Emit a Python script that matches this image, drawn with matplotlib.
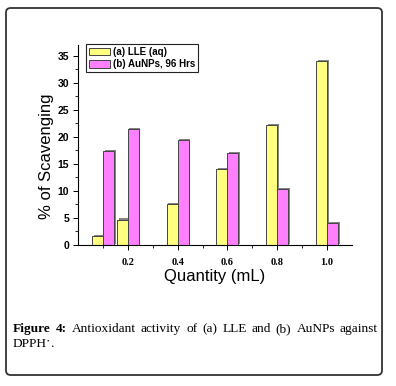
import matplotlib
matplotlib.use("Agg")
import matplotlib.pyplot as plt
import matplotlib.patheffects as pe
from matplotlib.patches import FancyBboxPatch
import numpy as np

# data
quantity = [0.1, 0.2, 0.4, 0.6, 0.8, 1.0]
lle_aq = [1.7, 4.7, 7.6, 14.0, 22.2, 34.1]
aunps_96h = [17.3, 21.5, 19.4, 17.0, 10.4, 4.0]
series_labels = ["(a) LLE (aq)", "(b) AuNPs, 96 Hrs"]
xtick_vals = [0.2, 0.4, 0.6, 0.8, 1.0]
xtick_labels = ["0.2", "0.4", "0.6", "0.8", "1.0"]
ytick_vals = [0, 5, 10, 15, 20, 25, 30, 35]

W, H = 396, 386
fig = plt.figure(figsize=(W / 100, H / 100), dpi=100)

# rounded frame around figure + caption
frame = FancyBboxPatch((6 / W, 1 - 375 / H), 376 / W, 367 / H,
                       boxstyle="round,pad=0,rounding_size=0.012",
                       transform=fig.transFigure, fill=False,
                       edgecolor="#333333", linewidth=1.3)
fig.patches.append(frame)

ax = fig.add_axes([78 / W, 1 - 245 / H, 274 / W, 200 / H])
x = np.array(quantity)
bw = 0.044
shadow = [pe.SimplePatchShadow(offset=(1.2, 0.8), shadow_rgbFace="#777777", alpha=0.9), pe.Normal()]
b1 = ax.bar(x - bw / 2, lle_aq, bw, color="#FFFF80", edgecolor="#444444",
            linewidth=0.7, label=series_labels[0])
b2 = ax.bar(x + bw / 2, aunps_96h, bw, color="#FF80FF", edgecolor="#444444",
            linewidth=0.7, label=series_labels[1])
for b in list(b1) + list(b2):
    b.set_path_effects(shadow)

ax.set_xlim(0, 1.1)
ax.set_ylim(0, 37)
ax.spines["top"].set_visible(False)
ax.spines["right"].set_visible(False)
for s in ("left", "bottom"):
    ax.spines[s].set_linewidth(0.8)

ax.set_xticks(xtick_vals)
ax.set_xticklabels(xtick_labels, fontfamily="Liberation Serif",
                   fontweight="bold", fontsize=7.5)
ax.set_xticks([0.1, 0.3, 0.5, 0.7, 0.9], minor=True)
ax.set_yticks(ytick_vals)
ax.set_yticklabels([str(v) for v in ytick_vals], fontfamily="Liberation Sans",
                   fontweight="bold", fontsize=7.5)
ax.set_yticks(np.arange(2.5, 37, 5), minor=True)
ax.tick_params(which="major", length=3.5, width=0.7, pad=3)
ax.tick_params(which="minor", length=2.5, width=0.6)
ax.tick_params(axis="x", which="major", pad=6)

fig.text(47 / W, 1 - 156 / H, "% of Scavenging", rotation=90,
         ha="center", va="center", fontfamily="Liberation Sans", fontsize=12)
fig.text(215 / W, 1 - 277 / H, "Quantity (mL)", ha="center", va="center",
         fontfamily="Liberation Sans", fontsize=12)

leg = ax.legend(loc="upper left", bbox_to_anchor=(86 / W, 1 - 44 / H),
                bbox_transform=fig.transFigure, fancybox=False,
                prop={"family": "Liberation Sans", "weight": "bold", "size": 7},
                handlelength=2.2, handleheight=0.8, handletextpad=0.3,
                labelspacing=0.25, borderpad=0.3, borderaxespad=0,
                framealpha=1)
leg.get_frame().set_edgecolor("#222222")
leg.get_frame().set_linewidth(0.8)
for h in leg.legend_handles:
    h.set_path_effects([])


def justify_line(parts, x0, x1, y, size):
    # parts: list of (word, weight); spread words across [x0, x1] px
    r = fig.canvas.get_renderer()
    texts = []
    for word, weight in parts:
        t = fig.text(0, 1 - y / H, word, fontfamily="Liberation Serif",
                     fontweight=weight, fontsize=size, va="baseline")
        texts.append(t)
    widths = [t.get_window_extent(r).width for t in texts]
    gap = (x1 - x0 - sum(widths)) / (len(texts) - 1)
    xp = x0
    for t, w in zip(texts, widths):
        t.set_x(xp / W)
        xp += w + gap


cap_size = 9.6
line1 = [("Figure", "bold"), ("4:", "bold")] + [
    (w, "normal") for w in "Antioxidant activity of (a) LLE and (b) AuNPs against".split()]
justify_line(line1, 13, 378, 332, cap_size)
t2 = fig.text(13 / W, 1 - 347 / H, "DPPH", fontfamily="Liberation Serif",
              fontsize=cap_size, va="baseline")
r = fig.canvas.get_renderer()
xe = t2.get_window_extent(r).x1
fig.text(xe / W, 1 - 342 / H, "\u2022", fontfamily="Liberation Serif",
         fontsize=5, va="baseline")
fig.text((xe + 3.5) / W, 1 - 347 / H, ".", fontfamily="Liberation Serif",
         fontsize=cap_size, va="baseline")

fig.savefig("out.png", dpi=100)
